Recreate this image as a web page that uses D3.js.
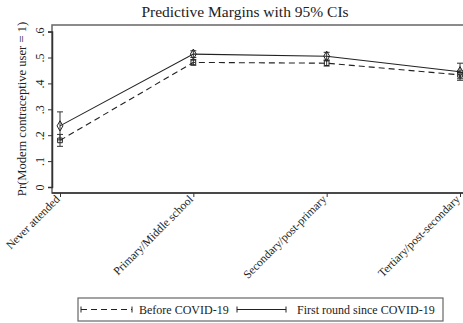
<!DOCTYPE html>
<html>
<head>
<meta charset="utf-8">
<script src="https://cdn.jsdelivr.net/npm/d3@7"></script>
<style>
  body { margin: 0; background: #fff; }
  text { font-family: "Liberation Serif", "Times New Roman", serif; fill: #222; }
</style>
</head>
<body>
<div id="chart"></div>
<script>
const width = 463, height = 323;

// education categories
const categories = ["Never attended", "Primary/Middle school", "Secondary/post-primary", "Tertiary/post-secondary"];
// Before COVID-19
const beforeVals = [0.180, 0.481, 0.478, 0.433];
const beforeLow = [0.157, 0.470, 0.467, 0.418];
const beforeHigh = [0.203, 0.492, 0.489, 0.448];
// First round since COVID-19
const firstVals = [0.236, 0.513, 0.505, 0.445];
const firstLow = [0.182, 0.500, 0.490, 0.412];
const firstHigh = [0.290, 0.526, 0.520, 0.478];
const yTicks = [0, 0.1, 0.2, 0.3, 0.4, 0.5, 0.6];
const yTickLabels = ["0", ".1", ".2", ".3", ".4", ".5", ".6"];

const svg = d3.select("#chart").append("svg")
  .attr("width", width).attr("height", height);

const x = d3.scalePoint().domain(categories).range([60, 460]);
const y = d3.scaleLinear().domain([0, 0.6]).range([187, 31.6]);

// plot region frame
const frame = { left: 52, top: 25, right: 470, bottom: 193 };
svg.append("rect")
  .attr("x", frame.left).attr("y", frame.top)
  .attr("width", frame.right - frame.left).attr("height", frame.bottom - frame.top)
  .attr("fill", "none").attr("stroke", "#666").attr("stroke-width", 1.5);

// y axis
const yAxis = d3.axisLeft(y).tickValues(yTicks).tickSize(4)
  .tickFormat((d, i) => yTickLabels[i]);
const gy = svg.append("g").attr("transform", `translate(${frame.left},0)`).call(yAxis);
gy.select(".domain").attr("stroke", "#333").attr("stroke-width", 1.5);
gy.selectAll(".tick line").attr("stroke", "#333");
gy.selectAll(".tick text")
  .attr("font-size", 12)
  .attr("text-anchor", "middle")
  .attr("x", 0).attr("y", 0).attr("dy", "0")
  .attr("transform", "translate(-8,0) rotate(-90)");

// x axis
const xAxis = d3.axisBottom(x).tickSize(4).tickSizeOuter(0);
const gx = svg.append("g").attr("transform", `translate(0,${frame.bottom})`).call(xAxis);
gx.select(".domain").attr("stroke", "#333").attr("stroke-width", 1.5)
  .attr("d", `M${frame.left},0H${frame.right}`);
gx.selectAll(".tick line").attr("stroke", "#333");
gx.selectAll(".tick text")
  .attr("font-size", 11.6)
  .attr("text-anchor", "end")
  .attr("dy", null).attr("y", 0)
  .attr("transform", "translate(0,7) rotate(-45)");

// y axis title
svg.append("text")
  .attr("transform", `translate(26,${(frame.top + frame.bottom) / 2}) rotate(-90)`)
  .attr("text-anchor", "middle")
  .attr("font-size", 12.6)
  .text("Pr(Modern contraceptive user = 1)");

// title
svg.append("text")
  .attr("x", 245).attr("y", 17)
  .attr("text-anchor", "middle")
  .attr("font-size", 15.5)
  .text("Predictive Margins with 95% CIs");

const series = [
  { vals: beforeVals, low: beforeLow, high: beforeHigh, dash: "6,4", marker: "square" },
  { vals: firstVals, low: firstLow, high: firstHigh, dash: null, marker: "diamond" }
];

const line = d3.line().x((d, i) => x(categories[i])).y(d => y(d));

series.forEach(s => {
  svg.append("path")
    .attr("d", line(s.vals))
    .attr("fill", "none")
    .attr("stroke", "#222")
    .attr("stroke-width", 1.1)
    .attr("stroke-dasharray", s.dash);

  // error bars
  categories.forEach((c, i) => {
    const cx = x(c);
    svg.append("path")
      .attr("d", `M${cx},${y(s.low[i])}V${y(s.high[i])}M${cx - 3},${y(s.low[i])}H${cx + 3}M${cx - 3},${y(s.high[i])}H${cx + 3}`)
      .attr("fill", "none").attr("stroke", "#333").attr("stroke-width", 1);
  });

  // markers
  const sym = s.marker === "square" ? d3.symbolSquare : d3.symbolDiamond;
  const sz = s.marker === "square" ? 22 : 30;
  svg.selectAll(null).data(s.vals).enter().append("path")
    .attr("d", d3.symbol().type(sym).size(sz))
    .attr("transform", (d, i) => `translate(${x(categories[i])},${y(d)})`)
    .attr("fill", "none").attr("stroke", "#222").attr("stroke-width", 1);
});

// legend
const lg = svg.append("g");
lg.append("rect")
  .attr("x", 78).attr("y", 298).attr("width", 365).attr("height", 23)
  .attr("fill", "#fff").attr("stroke", "#666").attr("stroke-width", 1.2);
const legendItems = [
  { label: "Before COVID-19", dash: "6,4", x0: 81, x1: 132, tx: 139 },
  { label: "First round since COVID-19", dash: null, x0: 237, x1: 286, tx: 297 }
];
legendItems.forEach(it => {
  const ly = 309.5;
  lg.append("path")
    .attr("d", `M${it.x0},${ly}H${it.x1}`)
    .attr("fill", "none").attr("stroke", "#222").attr("stroke-width", 1)
    .attr("stroke-dasharray", it.dash);
  lg.append("path")
    .attr("d", `M${it.x0},${ly - 3}V${ly + 3}M${it.x1},${ly - 3}V${ly + 3}`)
    .attr("fill", "none").attr("stroke", "#222").attr("stroke-width", 1);
  lg.append("text")
    .attr("x", it.tx).attr("y", ly + 4.3)
    .attr("font-size", 12)
    .text(it.label);
});
</script>
</body>
</html>
